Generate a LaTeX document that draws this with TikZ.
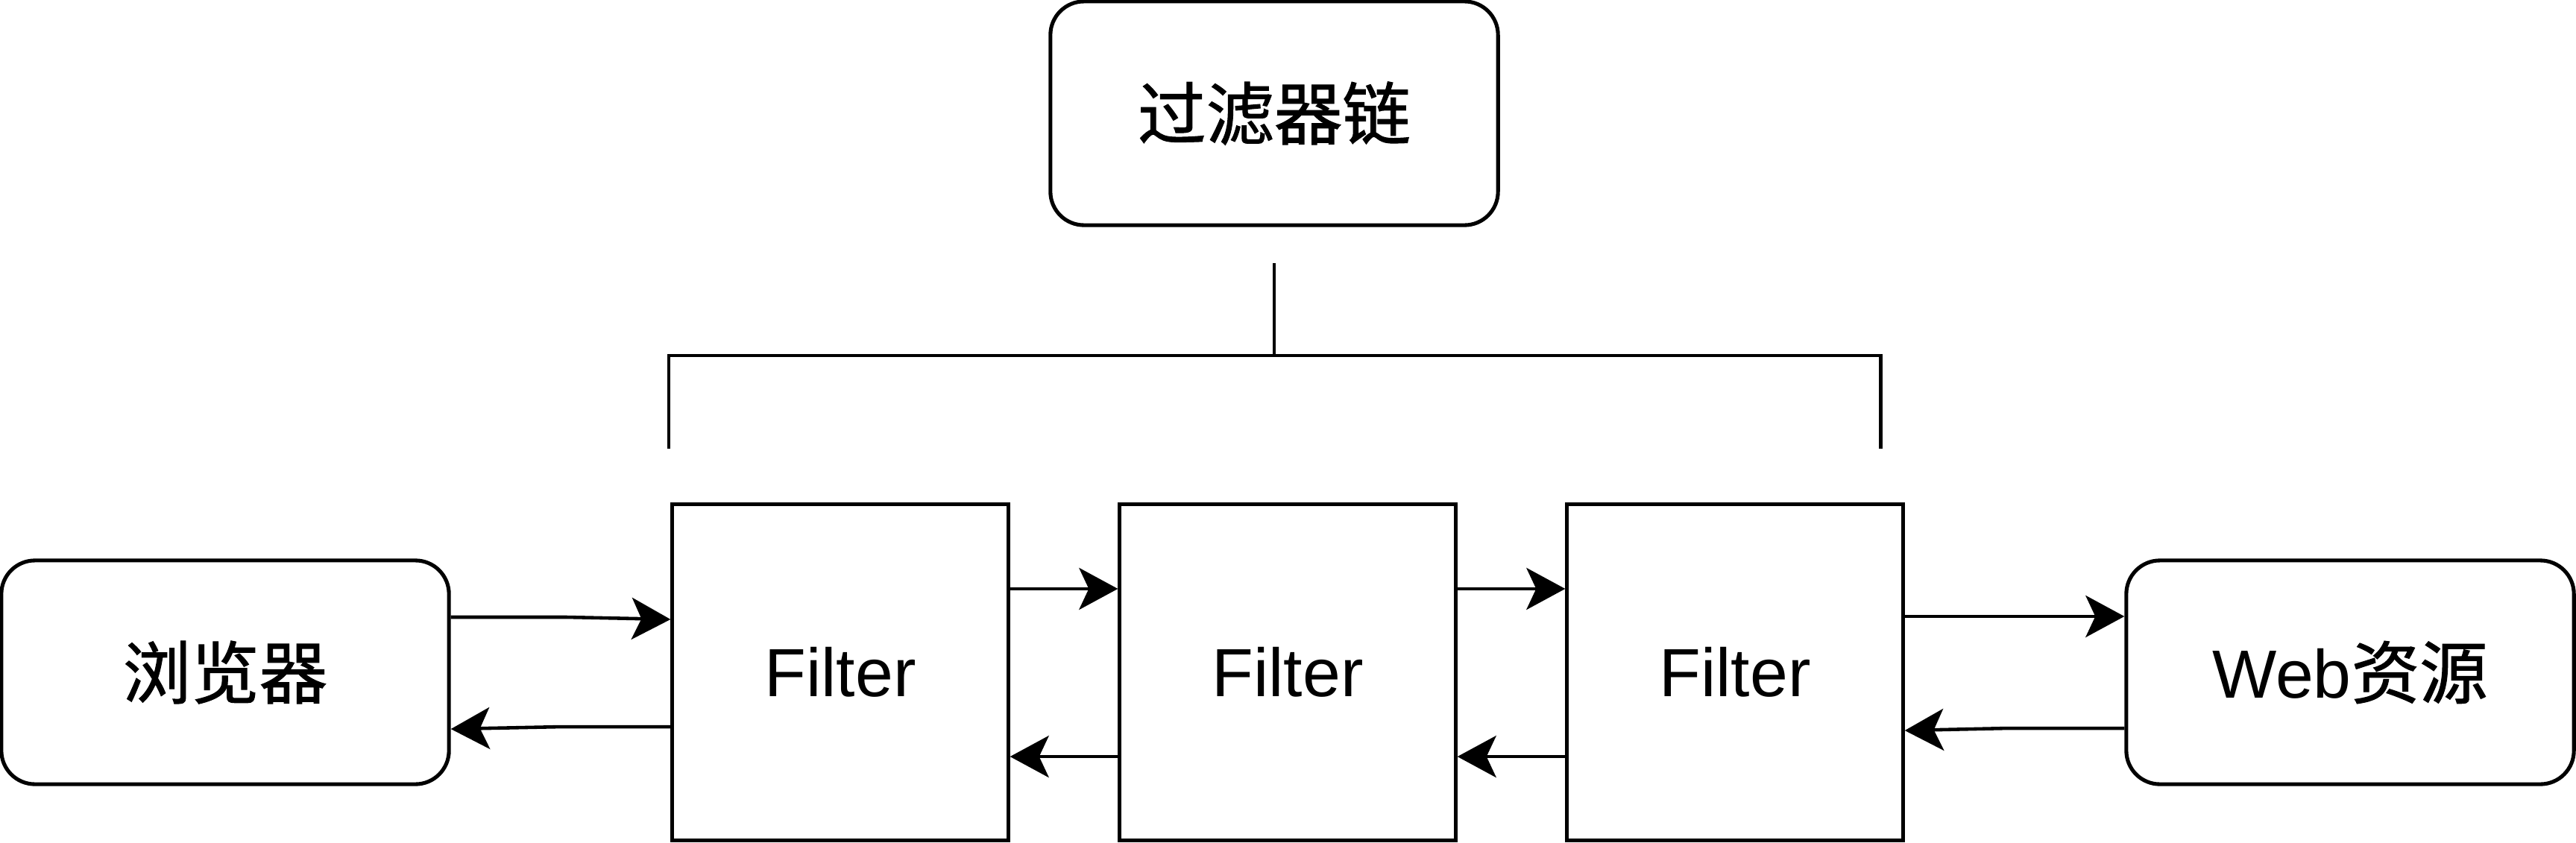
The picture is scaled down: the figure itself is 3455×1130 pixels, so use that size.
\documentclass[tikz,border=0pt]{standalone}
\usepackage{fontspec}
\setmainfont{Liberation Sans}
\newfontfamily\cjk[FakeBold=1.2]{Noto Sans CJK SC}
\usetikzlibrary{arrows.meta}
\begin{document}
\begin{tikzpicture}[x=0.01cm,y=-0.01cm,
  lbl/.style={font=\fontsize{26}{30}\selectfont},
  box/.style={draw, line width=1.45pt, rounded corners=0.45cm, minimum width=6cm, minimum height=3cm, inner sep=0pt, lbl},
  filterbox/.style={draw, line width=1.45pt, minimum width=4.5cm, minimum height=4.5cm, inner sep=0pt, lbl},
  conn/.style={line width=1.3pt, -{Stealth[length=0.52cm,width=0.56cm,inset=0.13cm]}},
  brk/.style={line width=1.4pt}]
\useasboundingbox (0,0) rectangle (3455,1130);
\fill[white] (0,0) rectangle (3455,1130);

\node[box] (chain) at (1709,152) {\cjk 过滤器链};
\node[box] (browser) at (302,902) {\cjk 浏览器};
\node[box] (web) at (3152,902) {Web{\cjk 资源}};
\node[filterbox] (f1) at (1127,902) {Filter};
\node[filterbox] (f2) at (1727,902) {Filter};
\node[filterbox] (f3) at (2327,902) {Filter};

% bracket
\coordinate (btop) at (1709,353);
\coordinate (bmid) at (1709,477);
\coordinate (bl) at (897,477);
\coordinate (br) at (2522,477);
\coordinate (bld) at (897,602);
\coordinate (brd) at (2522,602);
\draw[brk] (bld) -- (bl) -- (br) -- (brd);
\draw[brk] (btop) -- (bmid);

% connectors
\draw[conn] ([yshift=0.74cm]browser.east) -- ++(153,0) -- ([yshift=0.71cm]f1.west);
\draw[conn] ([yshift=-0.73cm]f1.west) -- ++(-147,0) -- ([yshift=-0.76cm]browser.east);
\draw[conn] ([yshift=1.12cm]f1.east) -- ([yshift=1.12cm]f2.west);
\draw[conn] ([yshift=-1.13cm]f2.west) -- ([yshift=-1.13cm]f1.east);
\draw[conn] ([yshift=1.12cm]f2.east) -- ([yshift=1.12cm]f3.west);
\draw[conn] ([yshift=-1.13cm]f3.west) -- ([yshift=-1.13cm]f2.east);
\draw[conn] ([yshift=0.75cm]f3.east) -- ([yshift=0.75cm]web.west);
\draw[conn] ([yshift=-0.75cm]web.west) -- ++(-157,0) -- ([yshift=-0.78cm]f3.east);
\end{tikzpicture}
\end{document}
